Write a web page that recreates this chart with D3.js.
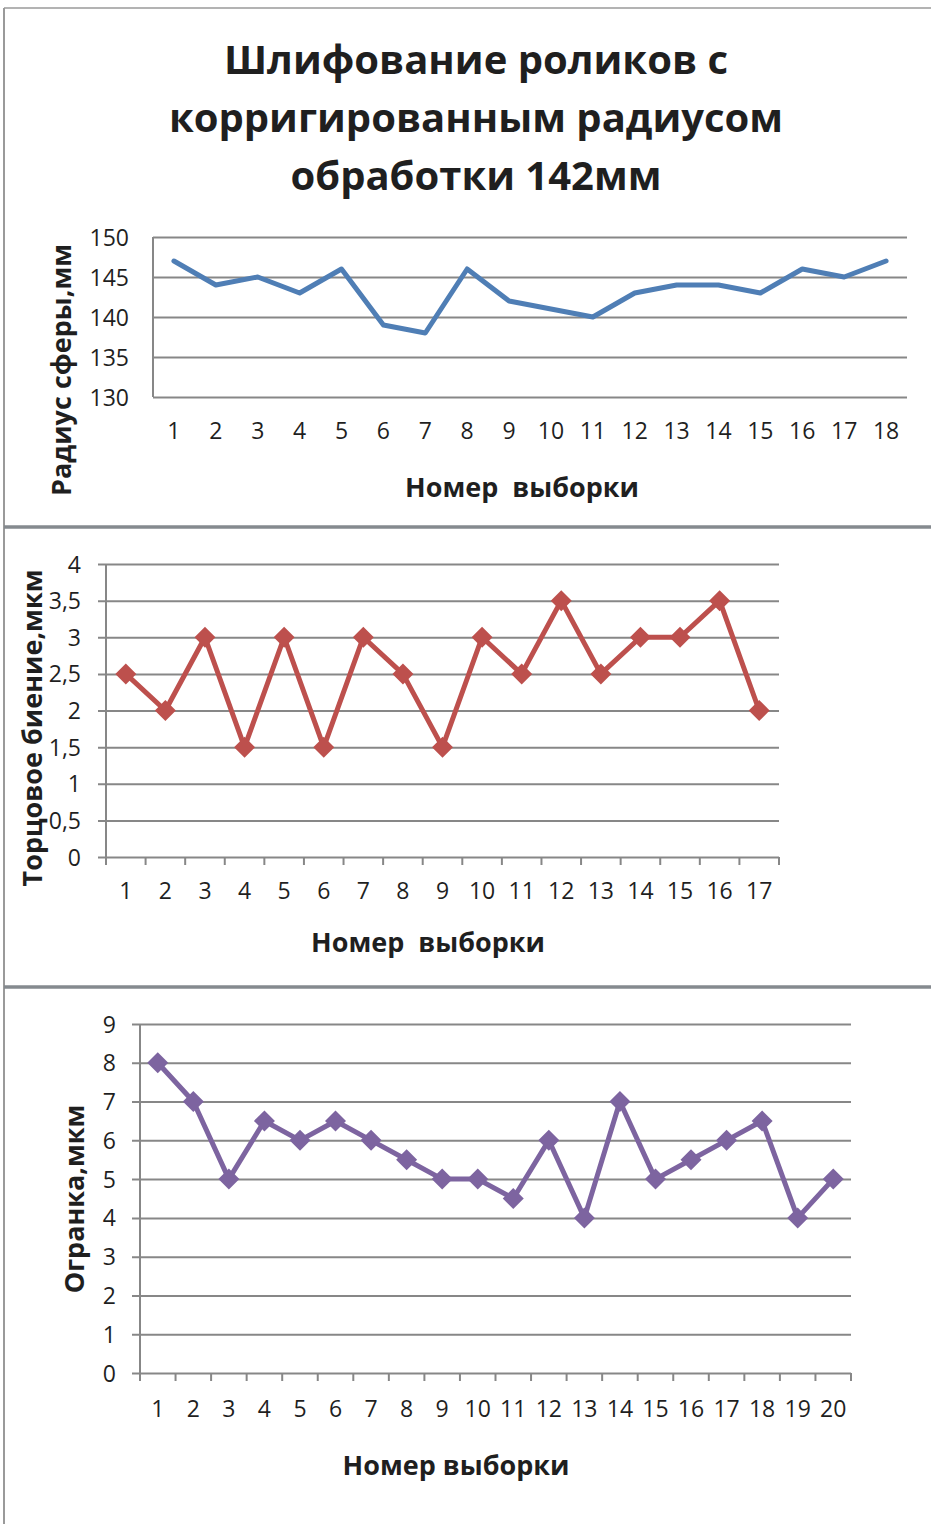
<!DOCTYPE html>
<html><head><meta charset="utf-8">
<script src="https://cdn.jsdelivr.net/npm/d3@7/dist/d3.min.js"></script>
<style>
html,body{margin:0;padding:0;background:#fff;}
svg text{font-family:"Open Sans","Noto Sans",sans-serif;fill:#1f1f1f;}
</style></head>
<body>
<svg id="chart" width="931" height="1524"></svg>
<script>
// Sphere radius per sample
const radiusSamples = [1,2,3,4,5,6,7,8,9,10,11,12,13,14,15,16,17,18];
const radiusValues = [147,144,145,143,146,139,138,146,142,141,140,143,144,144,143,146,145,147];
const radiusTicks = [130,135,140,145,150];

// End-face runout per sample
const runoutSamples = [1,2,3,4,5,6,7,8,9,10,11,12,13,14,15,16,17];
const runoutValues = [2.5,2,3,1.5,3,1.5,3,2.5,1.5,3,2.5,3.5,2.5,3,3,3.5,2];
const runoutTicks = [0,0.5,1,1.5,2,2.5,3,3.5,4];

// Faceting (lobing) per sample
const facetSamples = [1,2,3,4,5,6,7,8,9,10,11,12,13,14,15,16,17,18,19,20];
const facetValues = [8,7,5,6.5,6,6.5,6,5.5,5,5,4.5,6,4,7,5,5.5,6,6.5,4,5];
const facetTicks = [0,1,2,3,4,5,6,7,8,9];

const titleLines = ["Шлифование роликов с","корригированным радиусом","обработки 142мм"];

const svg = d3.select("#chart");
const fmt = d => String(d).replace(".", ",");

// page frame and panel separators
svg.append("line").attr("x1",4).attr("x2",4).attr("y1",8).attr("y2",1524)
  .attr("stroke","#9a9a9a").attr("stroke-width",2);
svg.append("line").attr("x1",4).attr("x2",931).attr("y1",8).attr("y2",8)
  .attr("stroke","#9a9a9a").attr("stroke-width",1.5);
[527,987].forEach(y=>{
  svg.append("line").attr("x1",4).attr("x2",931).attr("y1",y).attr("y2",y)
    .attr("stroke","#858a8f").attr("stroke-width",3.5);
});

// title
svg.append("g").selectAll("text").data(titleLines).join("text")
  .attr("x",476).attr("y",(d,i)=>74+i*58)
  .attr("text-anchor","middle").attr("font-size",40).attr("font-weight",700)
  .text(d=>d);

function panel(o){
  const x = d3.scaleBand().domain(o.cats).range([o.x0,o.x1]);
  const y = d3.scaleLinear().domain([o.ticks[0],o.ticks[o.ticks.length-1]]).range([o.y1,o.y0]);
  const g = svg.append("g");
  const tickOut = o.ticksOut ? 8 : 0;

  // gridlines and value axis
  const ya = d3.axisLeft(y).tickValues(o.ticks).tickSize(-(o.x1-o.x0)-tickOut)
    .tickFormat(fmt).tickPadding(0);
  const gy = g.append("g").attr("transform",`translate(${o.x0-tickOut},0)`).call(ya);
  gy.select(".domain").remove();
  gy.selectAll(".tick line").attr("stroke","#878787").attr("stroke-width",2);
  gy.selectAll(".tick text").attr("x",o.labelX-(o.x0-tickOut)).attr("dy","0.35em")
    .attr("font-size",o.fs).attr("fill","#1f1f1f");
  // vertical axis line
  g.append("line").attr("x1",o.x0).attr("x2",o.x0).attr("y1",o.y0).attr("y2",o.y1)
    .attr("stroke","#878787").attr("stroke-width",2);

  // category axis ticks at boundaries
  if(o.ticksOut){
    const bounds = o.cats.map(c=>x(c)).concat([o.x1]);
    g.append("g").selectAll("line").data(bounds).join("line")
      .attr("x1",d=>d).attr("x2",d=>d).attr("y1",o.y1).attr("y2",o.y1+8)
      .attr("stroke","#878787").attr("stroke-width",2);
  }
  g.append("g").selectAll("text").data(o.cats).join("text")
    .attr("x",d=>x(d)+x.bandwidth()/2).attr("y",o.catY)
    .attr("text-anchor","middle").attr("font-size",o.fs).text(d=>d);

  // series line
  const line = d3.line().x((d,i)=>x(o.cats[i])+x.bandwidth()/2).y(d=>y(d));
  g.append("path").datum(o.values).attr("d",line).attr("fill","none")
    .attr("stroke",o.color).attr("stroke-width",5).attr("stroke-linejoin","round")
    .attr("stroke-linecap","round");
  if(o.markers){
    const r = 10.5;
    g.append("g").selectAll("path").data(o.values).join("path")
      .attr("d",(d,i)=>{const cx=x(o.cats[i])+x.bandwidth()/2, cy=y(d);
        return `M${cx},${cy-r}L${cx+r},${cy}L${cx},${cy+r}L${cx-r},${cy}Z`;})
      .attr("fill",o.color);
  }

  // axis titles
  g.append("text").attr("transform",`translate(${o.yTitleX},${o.yTitleY}) rotate(-90)`)
    .attr("text-anchor","middle").attr("dy","0.35em").attr("font-size",o.tfs).attr("font-weight",700)
    .text(o.yTitle);
  g.append("text").attr("x",o.xTitleX).attr("y",o.xTitleY)
    .attr("text-anchor","middle").attr("font-size",o.tfs).attr("font-weight",700)
    .style("white-space","pre").attr("xml:space","preserve").text(o.xTitle);
}

panel({cats:radiusSamples, values:radiusValues, ticks:radiusTicks,
  x0:153, x1:907, y0:237, y1:397, labelX:129, catY:439, fs:23, tfs:27,
  ticksOut:false, markers:false, color:"#4f7eb5",
  yTitle:"Радиус сферы,мм", yTitleX:62, yTitleY:370,
  xTitle:"Номер  выборки", xTitleX:522, xTitleY:497});

panel({cats:runoutSamples, values:runoutValues, ticks:runoutTicks,
  x0:106, x1:779, y0:564, y1:857, labelX:81, catY:899, fs:23, tfs:27,
  ticksOut:true, markers:true, color:"#bd504d",
  yTitle:"Торцовое биение,мкм", yTitleX:33, yTitleY:728,
  xTitle:"Номер  выборки", xTitleX:428, xTitleY:952});

panel({cats:facetSamples, values:facetValues, ticks:facetTicks,
  x0:140, x1:851, y0:1024, y1:1373, labelX:116, catY:1417, fs:23, tfs:27,
  ticksOut:true, markers:true, color:"#7d64a0",
  yTitle:"Огранка,мкм", yTitleX:75, yTitleY:1199,
  xTitle:"Номер выборки", xTitleX:456, xTitleY:1475});
</script>
</body></html>
